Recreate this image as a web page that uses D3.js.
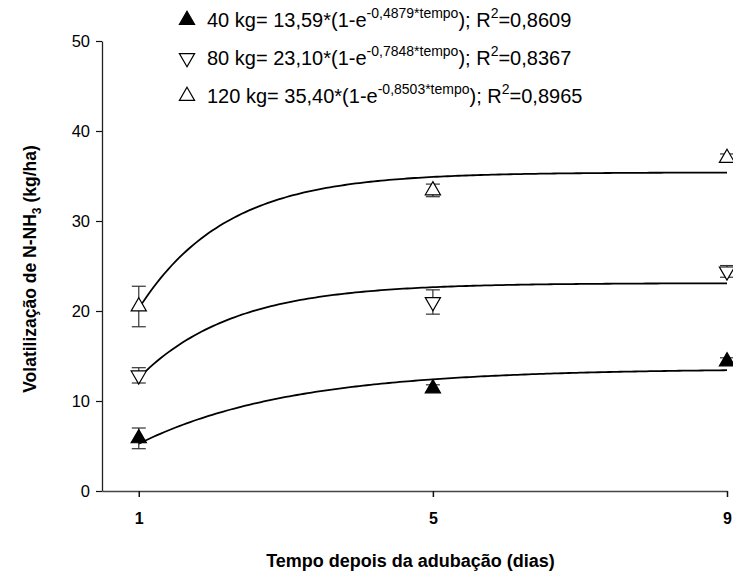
<!DOCTYPE html>
<html>
<head>
<meta charset="utf-8">
<script src="https://cdn.jsdelivr.net/npm/d3@7"></script>
<style>
  body { margin: 0; background: #fff; }
  svg { font-family: "Liberation Sans", Arial, sans-serif; }
</style>
</head>
<body>
<div id="chart"></div>
<script>
// data
const days = [1, 5, 9]
const doses = ['40 kg', '80 kg', '120 kg']
const mean40 = [5.85, 11.4, 14.4]
const err40 = [1.15, 0.4, 0.4]
const mean80 = [12.85, 21.0, 24.4]
const err80 = [0.85, 1.35, 0.65]
const mean120 = [20.5, 33.4, 37.0]
const err120 = [2.25, 0.7, 0.45]
// fitted model y = a*(1 - exp(-b*tempo)), from the legend
const fitA = [13.59, 23.10, 35.40]
const fitB = [0.4879, 0.7848, 0.8503]
const fitR2 = ['0,8609', '0,8367', '0,8965']
const yTicks = [0, 10, 20, 30, 40, 50]

document.addEventListener('DOMContentLoaded', () => {
    const fullWidth = 733
    const fullHeight = 577
    const left = 102, right = 727, top = 41, bottom = 491

    const svg = d3.select('#chart')
        .append('svg')
        .attr('width', fullWidth)
        .attr('height', fullHeight)

    const x = d3.scaleLinear().domain([0.5, 9]).range([left, right])
    const y = d3.scaleLinear().domain([0, 50]).range([bottom, top])

    // axes
    const xAxis = svg.append('g')
        .attr('transform', `translate(0, ${bottom})`)
        .call(d3.axisBottom(x).tickValues(days).tickSize(6).tickPadding(16).tickSizeOuter(0))
    const yAxis = svg.append('g')
        .attr('transform', `translate(${left}, 0)`)
        .call(d3.axisLeft(y).tickValues(yTicks).tickSize(6).tickPadding(6).tickSizeOuter(0))
    xAxis.select('.domain').attr('stroke', '#444').attr('stroke-width', 1.3)
    yAxis.select('.domain').attr('stroke', '#222').attr('stroke-width', 1.3)
    xAxis.selectAll('.tick line').attr('stroke', '#111').attr('stroke-width', 1.5)
    yAxis.selectAll('.tick line').attr('stroke', '#111').attr('stroke-width', 1.2)
    xAxis.selectAll('.tick text').attr('font-size', 16).attr('font-weight', 'bold')
        .attr('fill', '#000').style('font-family', '"Liberation Sans", Arial, sans-serif')
    yAxis.selectAll('.tick text').attr('font-size', 16.5)
        .attr('fill', '#000').style('font-family', '"Liberation Sans", Arial, sans-serif')

    // axis titles
    svg.append('text')
        .attr('x', (left + right) / 2 - 4)
        .attr('y', 567)
        .attr('text-anchor', 'middle')
        .attr('font-size', 18)
        .attr('font-weight', 'bold')
        .text('Tempo depois da adubação (dias)')

    const yTitle = svg.append('text')
        .attr('transform', `translate(36, ${(top + bottom) / 2 + 3}) rotate(-90)`)
        .attr('text-anchor', 'middle')
        .attr('font-size', 17.5)
        .attr('font-weight', 'bold')
    yTitle.append('tspan').text('Volatilização de N-NH')
    yTitle.append('tspan').attr('font-size', 12).attr('dy', 5).text('3')
    yTitle.append('tspan').attr('dy', -5).text(' (kg/ha)')

    const series = [
        { name: doses[0], mean: mean40, err: err40, shape: 'up', fill: '#000' },
        { name: doses[1], mean: mean80, err: err80, shape: 'down', fill: '#fff' },
        { name: doses[2], mean: mean120, err: err120, shape: 'up', fill: '#fff' }
    ]

    const triUp = d3.symbol().type(d3.symbolTriangle).size(100)
    function marker(g, shape, fill) {
        g.append('path')
            .attr('d', triUp())
            .attr('transform', shape === 'down' ? 'rotate(180)' : null)
            .attr('fill', fill)
            .attr('stroke', '#000')
            .attr('stroke-width', 1.2)
    }

    // fitted curves
    const tGrid = d3.range(1, 9.001, 0.05)
    const line = d3.line().x(d => x(d[0])).y(d => y(d[1]))
    series.forEach((s, i) => {
        svg.append('path')
            .datum(tGrid.map(t => [t, fitA[i] * (1 - Math.exp(-fitB[i] * t))]))
            .attr('fill', 'none')
            .attr('stroke', '#000')
            .attr('stroke-width', 1.8)
            .attr('d', line)
    })

    // error bars and points
    series.forEach(s => {
        const g = svg.append('g')
        days.forEach((d, j) => {
            const cx = x(d)
            const lo = y(s.mean[j] - s.err[j])
            const hi = y(s.mean[j] + s.err[j])
            g.append('line').attr('x1', cx).attr('x2', cx).attr('y1', lo).attr('y2', hi)
                .attr('stroke', '#333').attr('stroke-width', 1.2)
            ;[lo, hi].forEach(v => g.append('line')
                .attr('x1', cx - 7).attr('x2', cx + 7).attr('y1', v).attr('y2', v)
                .attr('stroke', '#333').attr('stroke-width', 1.2))
            const m = g.append('g').attr('transform', `translate(${cx}, ${y(s.mean[j])})`)
            marker(m, s.shape, s.fill)
        })
    })

    // legend
    const legend = svg.selectAll('.legend')
        .data(series)
        .enter()
        .append('g')
        .attr('class', 'legend')
        .attr('transform', (d, i) => `translate(187, ${20 + i * 38})`)
    legend.each(function (d) {
        marker(d3.select(this), d.shape, d.fill)
    })
    const lt = legend.append('text')
        .attr('x', 20)
        .attr('y', 7)
        .attr('font-size', 20)
    lt.append('tspan').text((d, i) => `${d.name}= ${d3.format('.2f')(fitA[i]).replace('.', ',')}*(1-e`)
    lt.append('tspan').attr('dy', -9).attr('font-size', 14)
        .text((d, i) => `-${d3.format('.4f')(fitB[i]).replace('.', ',')}*tempo`)
    lt.append('tspan').attr('dy', 9).text(')')
    lt.append('tspan').text('; R')
    lt.append('tspan').attr('dy', -9).attr('font-size', 14).text('2')
    lt.append('tspan').attr('dy', 9).text((d, i) => `=${fitR2[i]}`)
})
</script>
</body>
</html>
